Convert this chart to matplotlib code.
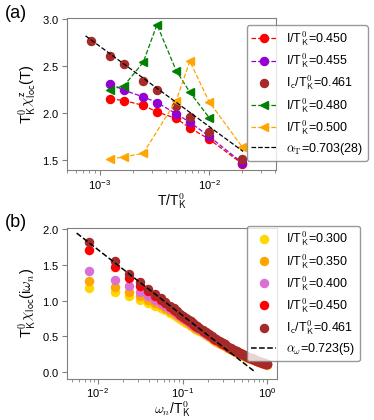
import numpy as np
import matplotlib
matplotlib.use('Agg')
import matplotlib.pyplot as plt

plt.rcParams['font.family'] = ['Liberation Sans', 'DejaVu Sans']
plt.rcParams['mathtext.fontset'] = 'cm'
plt.rcParams['mathtext.default'] = 'rm'
plt.rcParams['axes.formatter.use_mathtext'] = True
plt.rcParams['axes.edgecolor'] = '0.5'
plt.rcParams['xtick.color'] = '0.5'
plt.rcParams['ytick.color'] = '0.5'
plt.rcParams['xtick.labelcolor'] = 'black'
plt.rcParams['ytick.labelcolor'] = 'black'

# ---------------- panel (a) data ----------------
T_all = [1/1200, 1/800, 1/600, 1/400, 1/300, 1/200, 1/150, 1/100, 1/50]
T_450 = [1/800, 1/600, 1/400, 1/300, 1/200, 1/150, 1/100, 1/50]
chi_450 = [2.15, 2.13, 2.08, 2.01, 1.94, 1.84, 1.72, 1.46]
T_455 = [1/800, 1/600, 1/400, 1/300, 1/200, 1/150, 1/100, 1/50]
chi_455 = [2.31, 2.24, 2.17, 2.11, 1.99, 1.90, 1.75, 1.47]
T_461 = T_all
chi_461 = [2.77, 2.61, 2.52, 2.34, 2.24, 2.07, 1.96, 1.795, 1.51]
T_480 = [1/800, 1/600, 1/400, 1/300, 1/200, 1/150, 1/100]
chi_480 = [2.245, 2.29, 2.54, 2.94, 2.45, 2.22, 1.95]
T_500 = [1/800, 1/600, 1/400, 1/200, 1/150, 1/100, 1/50]
chi_500 = [1.51, 1.53, 1.57, 2.13, 2.55, 2.12, 1.64]
# fit: y = fitT_c0 + fitT_c1*log10(T)
fitT_range = [7.4e-4, 2.05e-2]
fitT_c0, fitT_c1 = 0.147, -0.854

# ---------------- panel (b) data ----------------
n_idx = list(range(1, 21)) + list(range(22, 41, 2)) + list(range(44, 129, 4))
omega_step = 0.00785
chi_b_300 = [1.175, 1.12, 1.06, 1.005, 0.965, 0.93, 0.90, 0.865, 0.83, 0.80, 0.77, 0.742, 0.716,
             0.692, 0.669, 0.647, 0.628, 0.609, 0.591, 0.574, 0.543, 0.516, 0.49, 0.467, 0.446,
             0.426, 0.408, 0.39, 0.377, 0.363, 0.336, 0.313, 0.295, 0.276, 0.259, 0.244, 0.231,
             0.217, 0.203, 0.193, 0.184, 0.175, 0.166, 0.156, 0.151, 0.142, 0.137, 0.132, 0.124,
             0.119, 0.114, 0.109]
chi_b_350 = [1.27, 1.185, 1.115, 1.06, 1.01, 0.97, 0.935, 0.895, 0.86, 0.825, 0.795, 0.765, 0.737,
             0.712, 0.688, 0.665, 0.645, 0.625, 0.606, 0.588, 0.556, 0.528, 0.501, 0.477, 0.455,
             0.435, 0.416, 0.398, 0.384, 0.37, 0.342, 0.319, 0.3, 0.281, 0.263, 0.248, 0.234,
             0.22, 0.206, 0.196, 0.186, 0.177, 0.168, 0.158, 0.153, 0.144, 0.139, 0.134, 0.125,
             0.12, 0.115, 0.11]
chi_b_400 = [1.41, 1.29, 1.21, 1.12, 1.06, 1.01, 0.97, 0.925, 0.885, 0.85, 0.815, 0.785, 0.755,
             0.73, 0.705, 0.68, 0.66, 0.64, 0.62, 0.60, 0.568, 0.54, 0.512, 0.487, 0.464,
             0.444, 0.425, 0.406, 0.391, 0.377, 0.348, 0.325, 0.305, 0.286, 0.267, 0.252, 0.238,
             0.223, 0.209, 0.199, 0.189, 0.179, 0.17, 0.16, 0.155, 0.145, 0.14, 0.135, 0.126,
             0.121, 0.116, 0.111]
chi_b_450 = [1.70, 1.47, 1.315, 1.21, 1.13, 1.07, 1.01, 0.96, 0.915, 0.875, 0.84, 0.805, 0.775,
             0.745, 0.72, 0.695, 0.675, 0.652, 0.632, 0.613, 0.578, 0.549, 0.52, 0.495, 0.471,
             0.451, 0.431, 0.412, 0.397, 0.382, 0.353, 0.329, 0.309, 0.29, 0.27, 0.255, 0.241,
             0.226, 0.211, 0.201, 0.191, 0.181, 0.172, 0.162, 0.157, 0.147, 0.142, 0.137, 0.127,
             0.122, 0.117, 0.112]
chi_b_461 = [1.81, 1.545, 1.375, 1.255, 1.16, 1.095, 1.03, 0.98, 0.93, 0.89, 0.855, 0.82, 0.79,
             0.76, 0.735, 0.71, 0.69, 0.665, 0.645, 0.625, 0.59, 0.56, 0.53, 0.505, 0.48,
             0.46, 0.44, 0.42, 0.405, 0.39, 0.36, 0.335, 0.315, 0.295, 0.275, 0.26, 0.245,
             0.23, 0.215, 0.205, 0.195, 0.185, 0.175, 0.165, 0.16, 0.15, 0.145, 0.14, 0.13,
             0.125, 0.12, 0.115]
# fit: y = fitw_c0 + fitw_c1*log10(omega)
fitw_range = [0.0056, 0.73]
fitw_c0, fitw_c1 = -0.125, -0.917

TK = r'T$^{\mathsf{0}}_{\mathsf{K}}$'
WN = r'$\omega_{\mathit{n}}$'

fig = plt.figure(figsize=(3.74, 4.2), dpi=100)
axa = fig.add_axes([0.179, 0.595, 0.559, 0.362])
axb = fig.add_axes([0.179, 0.098, 0.562, 0.359])

ms = 5.8
axa.plot(T_450, chi_450, '--o', color='red', ms=ms, lw=0.9, label=r'I/' + TK + '=0.450')
axa.plot(T_455, chi_455, '--o', color='#9400D3', ms=ms, lw=0.9, label=r'I/' + TK + '=0.455')
axa.plot(T_461, chi_461, 'o', color='#A52A2A', ms=ms, ls='none', label=r'I$_{\mathsf{c}}$/' + TK + '=0.461')
axa.plot(T_480, chi_480, '--<', color='green', ms=ms, lw=0.9, label=r'I/' + TK + '=0.480')
axa.plot(T_500, chi_500, '--<', color='orange', ms=ms, lw=0.9, label=r'I/' + TK + '=0.500')
Tf = np.array(fitT_range)
axa.plot(Tf, fitT_c0 + fitT_c1 * np.log10(Tf), '--', color='black', lw=0.9,
         label=r'$\alpha_{\mathrm{T}}$=0.703(28)')
axa.set_xscale('log')
axa.set_xlim(5.0e-4, 0.041)
axa.set_ylim(1.39, 3.01)
axa.set_yticks([1.5, 2.0, 2.5, 3.0])
axa.tick_params(labelsize=8, pad=2)
axa.set_xlabel(r'T/' + TK, fontsize=10, labelpad=0)
axa.set_ylabel(r'T$^{\mathsf{0}}_{\mathsf{K}}\chi^{\mathsf{z}}_{\mathsf{loc}}$(T)', fontsize=10.5, labelpad=3)
axa.legend(loc='upper left', bbox_to_anchor=(0.66, 0.94), bbox_transform=fig.transFigure,
           fontsize=9, borderaxespad=0, edgecolor='0.5', labelspacing=0.3, borderpad=0.35)

omega = np.array(n_idx) * omega_step
series_b = [(chi_b_300, '#FFD700', '0.300', 'I'), (chi_b_350, '#FFA500', '0.350', 'I'),
            (chi_b_400, '#DA70D6', '0.400', 'I'), (chi_b_450, 'red', '0.450', 'I'),
            (chi_b_461, '#A52A2A', '0.461', r'I$_{\mathsf{c}}$')]
for vals, col, lab, pre in series_b:
    axb.plot(omega, vals, 'o', color=col, ms=ms, ls='none', label=pre + '/' + TK + '=' + lab)
wf = np.array(fitw_range)
axb.plot(wf, fitw_c0 + fitw_c1 * np.log10(wf), '--', color='black', lw=1.1,
         label=r'$\alpha_{\omega}$=0.723(5)')
axb.set_xscale('log')
axb.set_xlim(0.0043, 1.31)
axb.set_ylim(-0.09, 2.01)
axb.set_yticks([0.0, 0.5, 1.0, 1.5, 2.0])
axb.tick_params(labelsize=8, pad=2)
axb.set_xlabel(WN + '/' + TK, fontsize=10, labelpad=-1)
axb.set_ylabel(r'T$^{\mathsf{0}}_{\mathsf{K}}\chi_{\mathsf{loc}}$(i' + WN + ')', fontsize=10.5, labelpad=3)
axb.legend(loc='upper left', bbox_to_anchor=(0.66, 0.463), bbox_transform=fig.transFigure,
           fontsize=9, borderaxespad=0, edgecolor='0.5', labelspacing=0.3, borderpad=0.35)

fig.text(0.013, 0.988, '(a)', fontsize=13, va='top', ha='left')
fig.text(0.013, 0.49, '(b)', fontsize=13, va='top', ha='left')

fig.savefig('out.png', dpi=100)
